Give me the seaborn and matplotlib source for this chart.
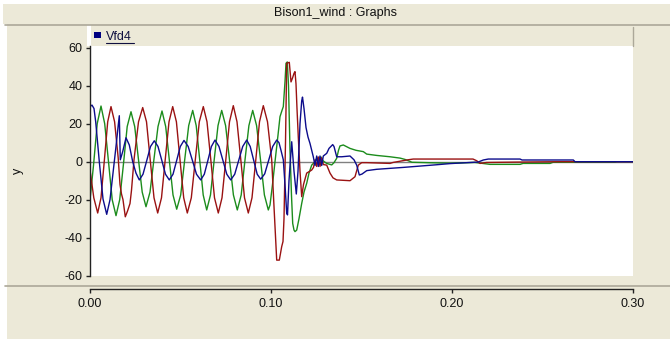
import numpy as np
import pandas as pd
import matplotlib
matplotlib.use('Agg')
import matplotlib.pyplot as plt
import seaborn as sns
from matplotlib.patches import Rectangle
from matplotlib.lines import Line2D

# time in ms
t_blue = [0, 1.10, 2.21, 3.15, 5.14, 7.18, 9.23, 11.05, 12.71, 14.36, 15.47, 16.19, 16.74, 18.07, 19.89,
          21.71, 23.59, 25.41, 27.24, 29.28, 31.38, 33.43, 35.52, 37.57, 39.67, 41.71, 43.81, 45.86, 47.90,
          49.89, 51.93, 54.25, 56.57, 58.84, 61.16, 63.15, 65.14, 67.07, 69.06, 71.27, 73.43, 75.58, 77.74,
          79.95, 82.16, 84.37, 86.58, 88.51, 90.44, 92.38, 94.31, 96.52, 98.73, 100.94, 103.15, 104.42,
          105.52, 106.80, 107.73, 108.67, 109.12, 109.94, 111.44, 112.71, 113.98, 114.92, 116.02, 116.96,
          117.40, 118.23, 119.34, 120.44, 121.55, 123.37, 124.31, 125.25, 126.13, 127.07, 128.01, 128.90,
          130.78, 132.05, 134.09, 134.81, 136.30, 139.07, 143.65, 145.86, 147.35, 148.79, 150.28, 152.88,
          158.40, 165.75, 173.10, 182.33, 191.55, 198.90, 208.12, 214.37, 217.30, 220.06, 237.58, 238.68,
          267.03, 267.96, 300]
v_blue = [29, 29.8, 28, 21, 0, -19.6, -27.7, -20, -6, 8, 18, 24.2, 1, 5.3, 12.6,
          8.8, 0, -6, -9.6, -6.6, 0.7, 8.0, 11.0, 8.0, 0.7, -6.6, -9.6, -6.6, 0.7,
          8.0, 11.2, 8.0, 0.7, -6.6, -9.6, -6.6, 0.7, 8.0, 11.4, 8.0, 0.7, -6.6, -9.6,
          -6.6, 0.7, 8.0, 11.4, 8.0, 0.7, -6.6, -9.2, -6.4, 0.8, 8.0, 11.4, 10,
          6, 1, -12, -27, -28, -10, 10.5, -5, -17, -5, 20, 32,
          34, 28, 18, 13, 9.6, 2.6, -2, 3, -2.5, 3, -2, 3,
          4.4, 7, 9, 8, 2.6, 2.6, 3, 1, -1.8, -7, -6.5, -4.7,
          -4, -3.5, -3, -2.3, -1.6, -1, -0.5, -0.2, 0.9, 1.4, 1.4, 0.9,
          0.9, 0, 0]

t_green = [0, 1.93, 3.98, 6.08, 8.12, 10.22, 12.27, 14.37, 16.41, 18.51,
           20.55, 22.65, 24.70, 26.80, 28.84, 30.94, 33.15, 35.36, 37.57, 39.78,
           41.82, 43.81, 45.86, 47.90, 50.11, 52.32, 54.53, 56.74, 58.68, 60.61,
           62.54, 64.48, 66.57, 68.62, 70.72, 72.76, 74.92, 77.07, 79.23, 81.38,
           83.54, 85.64, 87.79, 89.89, 92.04, 94.20, 96.35, 98.51, 99.45, 100.83,
           102.21, 103.87, 104.97, 106.08, 106.80, 107.73, 108.29, 109.00, 109.67, 110.50,
           111.33, 111.99, 112.71, 113.26, 114.20, 115.47, 116.96, 118.23, 119.72, 120.99,
           122.48, 124.31, 125.41, 126.52, 127.62, 128.73, 130.78, 133.54, 134.81, 136.30,
           137.30, 138.12, 139.95, 143.65, 146.97, 151.00, 152.88, 158.40, 165.75, 171.28,
           174.04, 175.86, 177.90, 198.90, 212.71, 221.00, 237.58, 239.23, 254.15, 255.80,
           290.06, 291.16, 300]
v_green = [-20, -2, 20, 29.3, 20, 0, -20, -28.4, -20, -1,
           18.5, 26.3, 18.5, 1, -16, -23.7, -16, 1.5, 18.5, 26.7,
           18.5, 1, -17.5, -25, -17.5, 1, 19, 27, 19, 1,
           -17.5, -25.4, -17.5, 1, 19, 27, 19, 1, -17.5, -25.4,
           -17.5, 1, 19, 27, 19, 1, -17.5, -25.4, -22.8, -12,
           0, 14, 23.7, 27, 29, 42, 51.8, 52.5, 40, 6,
           -18, -32.5, -36, -36.8, -36, -30, -22, -16, -11.4, -6,
           -1.8, 0, 2, 0.5, 2.5, 0.5, -0.9, -1.7, -0.5, 1.8,
           6, 8.3, 8.8, 7, 6, 5.3, 4, 3.3, 2.6, 1.9,
           1.2, 0.5, -0.3, -0.8, -0.4, -1.4, -1.4, -0.9, -0.9, -0.3,
           -0.3, 0, 0]

t_red = [0, 2.10, 4.25, 6.08, 7.96, 9.78, 11.60, 13.59, 15.58, 16.57,
         17.40, 18.23, 19.50, 20.72, 22.10, 22.93, 24.31, 26.80, 29.12, 31.22,
         33.26, 35.36, 37.40, 39.50, 41.55, 43.65, 45.69, 47.74, 49.72, 51.77,
         53.76, 55.97, 58.18, 60.39, 62.60, 64.64, 66.74, 68.78, 70.88, 72.93,
         75.03, 77.07, 79.17, 81.22, 83.32, 85.36, 87.46, 89.50, 91.60, 93.65,
         95.75, 98.07, 100.39, 101.66, 103.15, 104.59, 105.91, 106.63, 107.18, 108.01,
         108.67, 110.11, 111.05, 111.88, 112.71, 113.26, 113.81, 114.36, 115.08, 116.02,
         116.96, 117.96, 119.72, 122.48, 123.48, 124.31, 125.25, 126.13, 127.07, 128.01,
         128.90, 130.78, 132.60, 134.25, 136.30, 143.65, 146.41, 148.23, 150.11, 152.88,
         165.75, 167.40, 175.69, 178.62, 211.60, 213.65, 215.47, 219.17, 237.58, 259.67,
         300]
v_red = [-4.4, -19, -27, -19, 1, 21, 29, 21, 2, -12,
         -17, -20, -29, -26, -22, -15, 1, 21, 28.5, 21,
         1, -19, -27, -19, 1, 21, 29, 21, 1, -19,
         -27, -19, 1, 21, 29, 21, 1, -19, -27, -19,
         1, 21, 29.5, 21, 1, -19, -27, -19, 1, 21,
         29.5, 21, 1, -23.7, -51.8, -51.8, -44.7, -42, -30, 10,
         51.8, 52.3, 42, 44, 46.5, 47.4, 41, 28, 13, -5,
         -18.4, -12, -6, -4.4, -3, 1, -2.5, 2.5, -2.5, 2,
         -1.5, -1.8, -6, -8.5, -9.6, -10, -7.9, -1.8, -0.5, -0.5,
         -0.9, -0.4, 1.0, 1.4, 1.4, 0.5, -0.9, -0.4, -0.2, 0,
         0]

y_ticks = [-60, -40, -20, 0, 20, 40, 60]
x_ticks = [0.0, 0.1, 0.2, 0.3]
x_labels = ['0.00', '0.10', '0.20', '0.30']

df = pd.concat([
    pd.DataFrame({'t': np.array(t_green) / 1000, 'v': v_green, 'phase': 'c'}),
    pd.DataFrame({'t': np.array(t_red) / 1000, 'v': v_red, 'phase': 'b'}),
    pd.DataFrame({'t': np.array(t_blue) / 1000, 'v': v_blue, 'phase': 'a'}),
], ignore_index=True)

sns.set_style('white')
plt.rcParams['font.family'] = ['Liberation Sans', 'DejaVu Sans']
plt.rcParams['axes.unicode_minus'] = False

BEIGE = '#ECE9D8'
EDGE = '#ACA899'
W, H = 670, 339


def fx(px):
    return px / W


def fy(py):
    return 1 - py / H


def box(x0, y0, x1, y1, **kw):
    return Rectangle((fx(x0), fy(y1)), fx(x1) - fx(x0), (y1 - y0) / H, transform=fig.transFigure, **kw)


def hline(x0, x1, y, **kw):
    return Line2D([fx(x0), fx(x1)], [fy(y), fy(y)], transform=fig.transFigure, **kw)


fig = plt.figure(figsize=(6.7, 3.39), dpi=100)
fig.patch.set_facecolor('white')
fig.add_artist(box(3, 4, 670, 24, facecolor=BEIGE, edgecolor='none', zorder=-10))
fig.add_artist(box(7, 24, 670, 339, facecolor=BEIGE, edgecolor='none', zorder=-10))
# white gap left of the legend bar
fig.add_artist(box(87.5, 25, 90.5, 46, facecolor='white', edgecolor='none', zorder=-9))

# title bar
fig.text(fx(335), fy(13), 'Bison1_wind : Graphs', ha='center', va='center', fontsize=9, color='#111111')
fig.add_artist(hline(5, 670, 24.5, color=EDGE, lw=1.2))

# legend bar
fig.add_artist(box(90.5, 27, 633, 46, facecolor=BEIGE, edgecolor='none', zorder=1))
fig.add_artist(Line2D([fx(633), fx(633)], [fy(27), fy(46)], transform=fig.transFigure, color=EDGE, lw=1))
fig.add_artist(box(94, 32, 101, 37.5, facecolor='#000080', edgecolor='none', zorder=2))
fig.text(fx(106), fy(37), 'Vfd4', ha='left', va='center', fontsize=9, color='#101040')
fig.add_artist(hline(106, 134, 42.8, color='#101040', lw=0.8))

# main plot
ax = fig.add_axes([fx(90), fy(276), fx(633) - fx(90), 230 / H])
ax.set_facecolor('white')
ax.axhline(0, color='#808080', lw=1, zorder=1)
sns.lineplot(data=df, x='t', y='v', hue='phase', hue_order=['c', 'b', 'a'],
             palette={'a': '#0c0c8c', 'b': '#9a1212', 'c': '#1c8c1c'},
             estimator=None, sort=False, legend=False, lw=1.0, ax=ax)
ax.set_xlim(0, 0.3)
ax.set_ylim(-60.16, 60.9)
ax.set_xticks([])
ax.set_yticks(y_ticks)
ax.set_xlabel('')
ax.set_ylabel('')
for s in ['top', 'right', 'bottom']:
    ax.spines[s].set_visible(False)
ax.spines['left'].set_color('#222222')
ax.spines['left'].set_linewidth(1)
ax.tick_params(axis='y', left=True, length=3, width=1, color='#222222', pad=2.5, labelsize=9, labelcolor='#111111')
fig.text(fx(18), fy(171), 'y', rotation=90, ha='center', va='center', fontsize=9, color='#111111')

# x axis strip
fig.add_artist(hline(5, 670, 286.3, color=EDGE, lw=1.2))
xa = fig.add_axes([fx(90), fy(288.5), fx(633) - fx(90), 0.001])
xa.patch.set_visible(False)
for s in ['top', 'right', 'left']:
    xa.spines[s].set_visible(False)
xa.spines['bottom'].set_color('#222222')
xa.spines['bottom'].set_linewidth(1)
xa.set_xlim(0, 0.3)
xa.set_yticks([])
xa.set_xticks(x_ticks)
xa.set_xticklabels(x_labels)
xa.tick_params(axis='x', bottom=True, length=3, width=1, color='#222222', pad=4, labelsize=9, labelcolor='#111111')

fig.savefig('out.png', dpi=100)
